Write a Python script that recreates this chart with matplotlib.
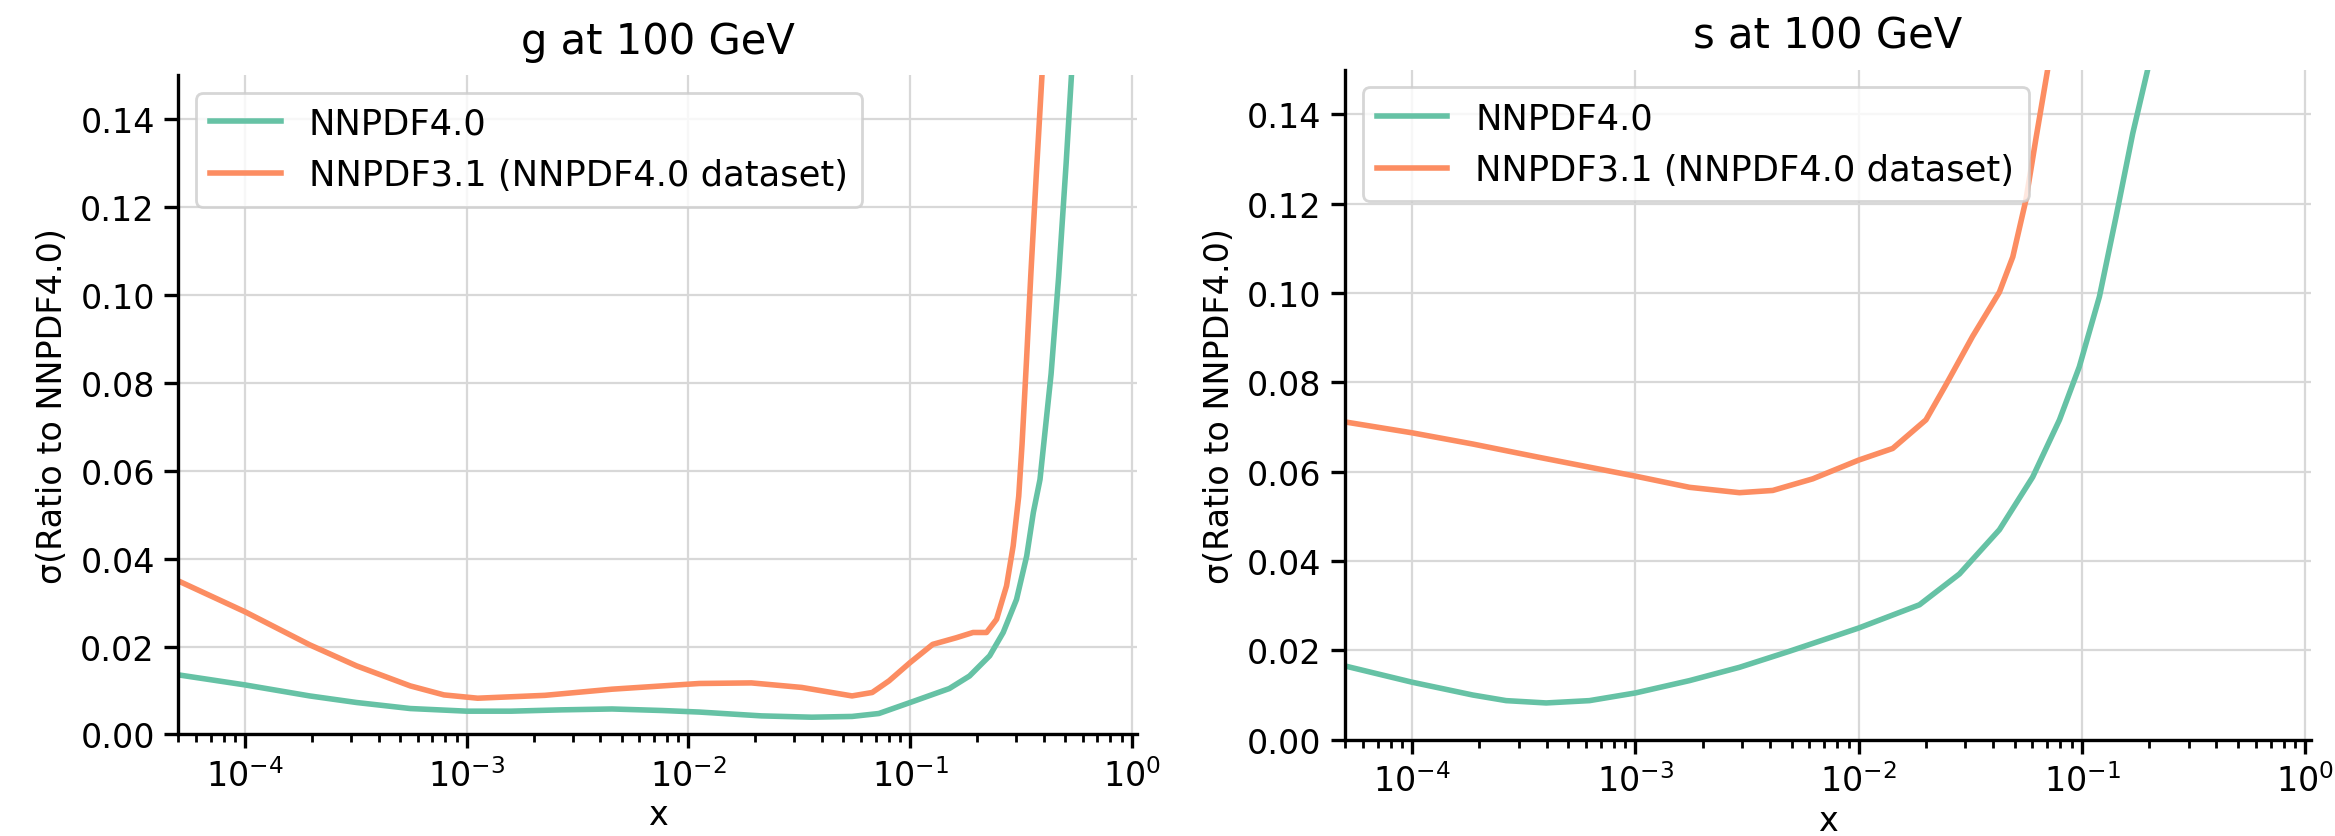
import numpy as np
import matplotlib
matplotlib.use("Agg")
import matplotlib.pyplot as plt

# ---------------- data (x given as log10(x)) ----------------
g_logx_nn40 = [-4.3, -4.0, -3.709, -3.497, -3.255, -3.0, -2.8, -2.573, -2.345, -2.118,
               -1.951, -1.671, -1.444, -1.262, -1.141, -1.0, -0.823, -0.732, -0.641,
               -0.58, -0.52, -0.474, -0.444, -0.414, -0.364, -0.33, -0.296, -0.272, -0.26]
g_y_nn40 = [0.01355, 0.01127, 0.00877, 0.00727, 0.0059, 0.0053, 0.0053, 0.0056, 0.0058,
            0.00545, 0.0051, 0.00423, 0.00393, 0.0041, 0.00477, 0.00727, 0.01045, 0.0133,
            0.0179, 0.0232, 0.0307, 0.0406, 0.0505, 0.058, 0.082, 0.104, 0.130, 0.150, 0.162]

g_logx_nn31 = [-4.3, -4.0, -3.709, -3.497, -3.255, -3.103, -2.951, -2.648, -2.345, -1.951,
               -1.716, -1.489, -1.262, -1.171, -1.095, -1.0, -0.898, -0.792, -0.716, -0.655,
               -0.61, -0.565, -0.535, -0.51, -0.495, -0.475, -0.455, -0.43, -0.405, -0.395]
g_y_nn31 = [0.0349, 0.0279, 0.0204, 0.0156, 0.01105, 0.009, 0.00825, 0.0089, 0.0103, 0.0116,
            0.01173, 0.0107, 0.00877, 0.00955, 0.0122, 0.01636, 0.0205, 0.022, 0.0232, 0.0232,
            0.0262, 0.0338, 0.0429, 0.0542, 0.066, 0.085, 0.105, 0.128, 0.150, 0.160]

s_logx_nn40 = [-4.296, -4.0, -3.729, -3.579, -3.4, -3.206, -3.0, -2.758, -2.534, -2.31,
               -2.0, -1.728, -1.549, -1.37, -1.221, -1.101, -1.012, -0.922, -0.848,
               -0.773, -0.706, -0.69]
s_y_nn40 = [0.01644, 0.01286, 0.0100, 0.00874, 0.00822, 0.00874, 0.01046, 0.01322, 0.0162,
            0.0198, 0.0250, 0.0302, 0.0371, 0.0470, 0.0588, 0.0716, 0.0835, 0.0992, 0.1170,
            0.1357, 0.150, 0.155]

s_logx_nn31 = [-4.296, -4.0, -3.729, -3.43, -3.0, -2.758, -2.534, -2.385, -2.206, -2.0,
               -1.848, -1.699, -1.609, -1.49, -1.37, -1.31, -1.251, -1.206, -1.154, -1.14]
s_y_nn31 = [0.0711, 0.0687, 0.0662, 0.0632, 0.0590, 0.0565, 0.0553, 0.0558, 0.0584, 0.0626,
            0.0652, 0.0716, 0.0795, 0.0903, 0.1002, 0.1081, 0.1209, 0.1347, 0.150, 0.154]

titles = ["g at 100 GeV", "s at 100 GeV"]
labels = ["NNPDF4.0", "NNPDF3.1 (NNPDF4.0 dataset)"]
colors = ["#66c2a5", "#fc8d62"]
yticks = [0.00, 0.02, 0.04, 0.06, 0.08, 0.10, 0.12, 0.14]

# ---------------- plot ----------------
plt.rcParams['font.family'] = ['DejaVu Sans']
fig = plt.figure(figsize=(11.675, 4.185), dpi=200)
ax1 = fig.add_axes([0.0764, 0.1213, 0.4107, 0.7878])
ax2 = fig.add_axes([0.5760, 0.1151, 0.4137, 0.8004])

panels = [
    (ax1, titles[0], (g_logx_nn40, g_y_nn40), (g_logx_nn31, g_y_nn31)),
    (ax2, titles[1], (s_logx_nn40, s_y_nn40), (s_logx_nn31, s_y_nn31)),
]

for ax, title, a, b in panels:
    ax.plot(10 ** np.asarray(a[0]), a[1], color=colors[0], lw=2, label=labels[0])
    ax.plot(10 ** np.asarray(b[0]), b[1], color=colors[1], lw=2, label=labels[1])
    ax.set_xscale('log')
    ax.set_xlim(5e-5, 1.06)
    ax.set_ylim(0, 0.15)
    ax.set_yticks(yticks)
    ax.set_yticklabels([f"{v:.2f}" for v in yticks])
    ax.grid(True, which='major', color='#d8d8d8', lw=0.8)
    ax.set_axisbelow(True)
    for sp in ['top', 'right']:
        ax.spines[sp].set_visible(False)
    for sp in ['left', 'bottom']:
        ax.spines[sp].set_linewidth(1.2)
    ax.tick_params(axis='both', which='major', labelsize=12, length=5, width=1.2)
    ax.tick_params(axis='x', which='minor', length=3, width=1.0)
    ax.set_title(title, fontsize=15, pad=8)
    ax.set_xlabel("x", fontsize=12, labelpad=2)
    ax.set_ylabel("σ(Ratio to NNPDF4.0)", fontsize=12)
    leg = ax.legend(loc='upper left', fontsize=12.7, frameon=True, fancybox=True,
                    edgecolor='#cccccc', framealpha=0.8)

fig.savefig("out.png", dpi=200)
